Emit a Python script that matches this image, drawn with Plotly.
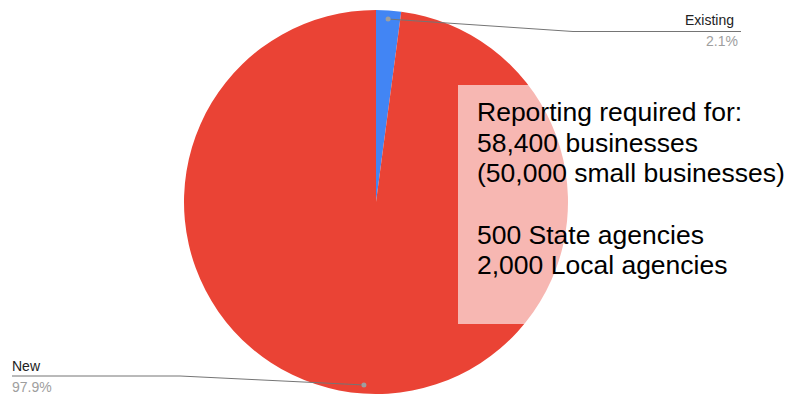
import math
import plotly.graph_objects as go

# ---- data ----
labels = ["Existing", "New"]
values = [2.1, 97.9]
colors = ["#4285F4", "#EA4335"]
note_lines = [
    "Reporting required for:",
    "58,400 businesses",
    "(50,000 small businesses)",
    "",
    "500 State agencies",
    "2,000 Local agencies",
]

W, H = 801, 394
CX, CY, R = 376, 202, 192   # pie center / radius in pixels (from top)
FONT = "Arial"

def px(x):
    return x / W

def py(y):
    return 1 - y / H

fig = go.Figure()
fig.add_trace(go.Pie(
    labels=labels, values=values, sort=False, direction="clockwise",
    rotation=0, marker=dict(colors=colors, line=dict(width=0)),
    textinfo="none", showlegend=False,
    domain=dict(x=[px(CX - R), px(CX + R)], y=[py(CY + R), py(CY - R)]),
))

# leader lines computed from slice mid-angles
total = sum(values)
cum = 0
dots = []
for v in values:
    mid = (cum + v / 2) / total * 2 * math.pi
    cum += v
    dx = math.sin(mid) * R * 0.955
    dy = -math.cos(mid) * R * 0.955
    dots.append((CX + dx, CY + dy))

shapes = []
annotations = []
line_col = "#757575"
# Existing label (right side)
(ex, ey) = dots[0]
shapes.append(dict(type="path", xref="paper", yref="paper",
                   path=f"M {px(ex)},{py(ey)} L {px(573)},{py(31.5)} L {px(741)},{py(31.5)}",
                   line=dict(color=line_col, width=1)))
annotations.append(dict(x=px(736), y=py(20.5), xref="paper", yref="paper", text=labels[0],
                        showarrow=False, xanchor="right", yanchor="middle",
                        font=dict(size=14, color="#222222", family=FONT)))
annotations.append(dict(x=px(740), y=py(41.5), xref="paper", yref="paper",
                        text=f"{values[0]}%", showarrow=False, xanchor="right", yanchor="middle",
                        font=dict(size=14, color="#9E9E9E", family=FONT)))
# New label (left side)
(nx, ny) = dots[1]
shapes.append(dict(type="path", xref="paper", yref="paper",
                   path=f"M {px(nx)},{py(ny)} L {px(180)},{py(376)} L {px(12)},{py(376)}",
                   line=dict(color=line_col, width=1)))
annotations.append(dict(x=px(10), y=py(365.5), xref="paper", yref="paper", text=labels[1],
                        showarrow=False, xanchor="left", yanchor="middle",
                        font=dict(size=14, color="#222222", family=FONT)))
annotations.append(dict(x=px(10), y=py(386.5), xref="paper", yref="paper",
                        text=f"{values[1]}%", showarrow=False, xanchor="left", yanchor="middle",
                        font=dict(size=14, color="#9E9E9E", family=FONT)))
for (dxp, dyp) in dots:
    shapes.append(dict(type="circle", xref="paper", yref="paper",
                       x0=px(dxp - 2.5), x1=px(dxp + 2.5), y0=py(dyp + 2.5), y1=py(dyp - 2.5),
                       fillcolor="#9E9E9E", line=dict(width=0)))

# note box
shapes.append(dict(type="rect", xref="paper", yref="paper",
                   x0=px(458), x1=px(805), y0=py(324), y1=py(85),
                   fillcolor="rgba(255,255,255,0.62)", line=dict(width=0), layer="above"))
baselines = [119, 149.5, 179.5, 210.5, 242, 272]
for line, b in zip(note_lines, baselines):
    if not line:
        continue
    annotations.append(dict(x=px(475), y=py(b - 7), xref="paper", yref="paper",
                            text=line, showarrow=False, xanchor="left", yanchor="middle",
                            align="left",
                            font=dict(size=26.5, color="#000000", family=FONT)))

fig.update_layout(width=W, height=H, margin=dict(l=0, r=0, t=0, b=0),
                  paper_bgcolor="white", plot_bgcolor="white",
                  shapes=shapes, annotations=annotations)
fig.write_html("out.html")
